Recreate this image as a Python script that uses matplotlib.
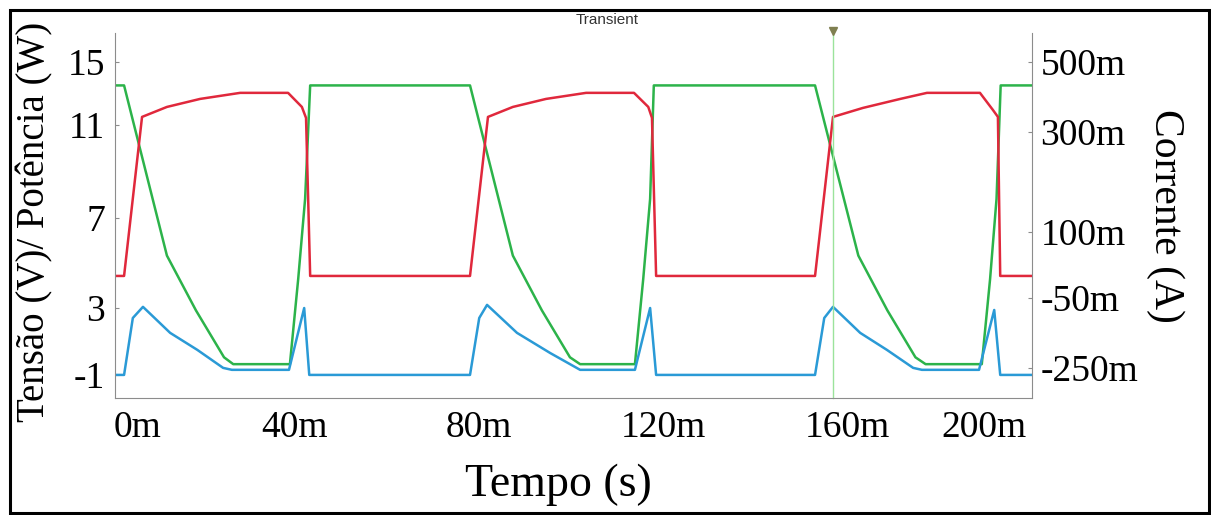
import matplotlib
matplotlib.use("Agg")
import matplotlib.pyplot as plt
from matplotlib.patches import Rectangle

# time in ms, values in the left-axis scale
t_green = [0.93, 2.9, 12.2, 18.5, 24.6, 26.6, 38.9, 40.7, 42.2, 43.3,
           78.0, 87.3, 93.6, 99.7, 101.9, 113.8, 115.6, 117.1, 117.9,
           152.9, 162.3, 168.6, 174.7, 176.9, 189.1, 190.9, 192.3, 193.2, 200.0]
v_green = [13.8, 13.8, 5.1, 2.3, -0.1, -0.45, -0.45, 3.9, 8.0, 13.8,
           13.8, 5.1, 2.3, -0.1, -0.45, -0.45, 3.9, 8.0, 13.8,
           13.8, 5.1, 2.3, -0.1, -0.45, -0.45, 3.9, 8.0, 13.8, 13.8]

t_red = [0.93, 2.9, 6.8, 12.2, 19.4, 28.1, 38.5, 41.5, 42.4, 43.3,
         78.0, 81.9, 87.3, 94.5, 103.2, 113.6, 116.7, 117.5, 118.4,
         152.9, 156.8, 163.3, 171.4, 177.2, 188.7, 191.5, 192.6, 193.1, 200.0]
v_red = [4.06, 4.06, 12.19, 12.7, 13.11, 13.42, 13.42, 12.7, 12.14, 4.06,
         4.06, 12.19, 12.7, 13.11, 13.42, 13.42, 12.7, 12.14, 4.06,
         4.06, 12.19, 12.65, 13.11, 13.42, 13.42, 12.55, 12.19, 4.06, 4.06]

t_blue = [0.93, 2.9, 4.8, 7.0, 12.9, 18.8, 24.4, 26.3, 38.7, 42.0, 43.1,
          78.0, 80.0, 81.7, 88.2, 95.4, 101.9, 113.8, 117.1, 118.4,
          152.9, 154.9, 156.8, 162.7, 168.5, 174.2, 176.1, 188.5, 191.8, 193.1, 200.0]
v_blue = [-1.0, -1.0, 1.91, 2.48, 1.15, 0.28, -0.64, -0.74, -0.74, 2.42, -1.0,
          -1.0, 1.91, 2.58, 1.15, 0.12, -0.74, -0.74, 2.42, -1.0,
          -1.0, 1.91, 2.48, 1.15, 0.28, -0.64, -0.74, -0.74, 2.32, -1.0, -1.0]

cursor_t = 156.8

x_tick_pos = [5.9, 40, 80, 120, 160, 189.6]
x_tick_labels = ['0m', '40m', '80m', '120m', '160m', '200m']
left_tick_pos = [15, 11.78, 7.03, 2.42, -1]
left_tick_labels = ['15', '11', '7', '3', '-1']
right_tick_pos = [15, 11.42, 6.31, 2.94, -0.64]
right_tick_labels = ['500m', '300m', '100m', '-50m', '-250m']

plt.rcParams['font.family'] = ['Liberation Serif', 'DejaVu Serif']

fig = plt.figure(figsize=(12.11, 5.15), dpi=100)
ax = fig.add_axes([115 / 1211, 1 - 398 / 515, 917 / 1211, 365 / 515])

ax.plot(t_green, v_green, color='#2cb34a', lw=1.8)
ax.plot(t_red, v_red, color='#e0283c', lw=1.8)
ax.plot(t_blue, v_blue, color='#2a9ad6', lw=1.8)

ax.axvline(cursor_t, ymin=0, ymax=1.01, color='#9be39b', lw=1.0, clip_on=False)
ax.plot([cursor_t], [16.6], marker='v', color='#7f7f50', ms=6, clip_on=False)

ax.set_xlim(0.93, 200)
ax.set_ylim(-2.18, 16.48)

for s in ['left', 'right', 'bottom']:
    ax.spines[s].set_color('#8c8c8c')
ax.spines['top'].set_visible(False)

ax.set_xticks(x_tick_pos, x_tick_labels)
ax.set_yticks(left_tick_pos, left_tick_labels)
ax.tick_params(axis='x', labelsize=27, pad=9, length=0)
ax.tick_params(axis='y', labelsize=27, pad=7, length=3, direction='in', color='#8c8c8c')

ax2 = ax.twinx()
ax2.set_ylim(ax.get_ylim())
ax2.set_yticks(right_tick_pos, right_tick_labels)
ax2.tick_params(axis='y', labelsize=27, pad=6, length=3, direction='in', color='#8c8c8c')
for s in ax2.spines.values():
    s.set_visible(False)

ax.text(-0.087, 0.482, 'Tensão (V)/ Potência (W)', transform=ax.transAxes,
        rotation=90, ha='center', va='center', fontsize=28)
ax.text(1.145, 0.50, 'Corrente (A)', transform=ax.transAxes,
        rotation=-90, ha='center', va='center', fontsize=30)
ax.text(0.483, -0.238, 'Tempo (s)', transform=ax.transAxes,
        ha='center', va='center', fontsize=33)

fig.text(0.501, 0.961, 'Transient', ha='center', va='center', fontsize=11,
         color='#333333', family='Liberation Sans')

fig.patches.append(Rectangle((10 / 1211, 2 / 515), 1199 / 1211, 503 / 515,
                             transform=fig.transFigure, fill=False,
                             edgecolor='black', lw=2.2))

fig.savefig('out.png', dpi=100)
